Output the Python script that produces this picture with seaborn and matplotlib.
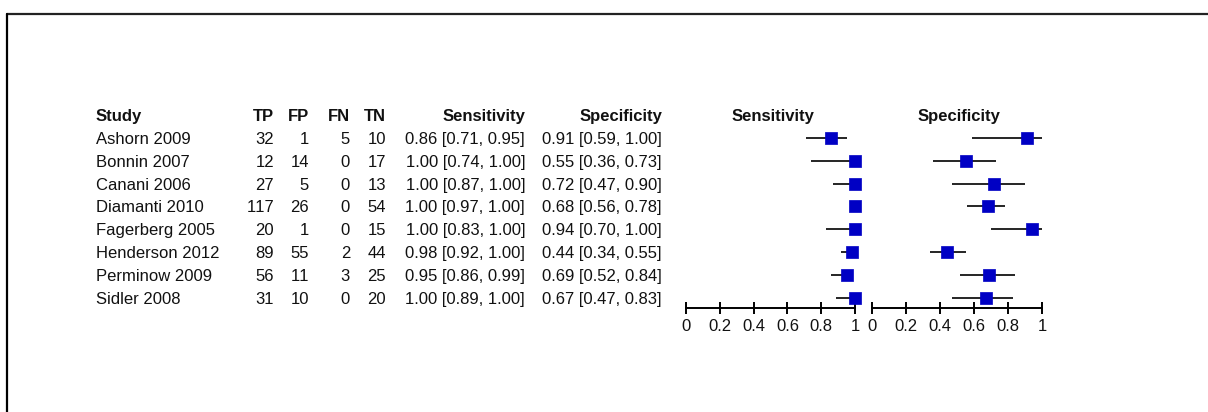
import matplotlib
matplotlib.use("Agg")
import matplotlib.pyplot as plt
import seaborn as sns
import pandas as pd
from matplotlib.lines import Line2D

# ---------------- data ----------------
studies = ["Ashorn 2009", "Bonnin 2007", "Canani 2006", "Diamanti 2010",
           "Fagerberg 2005", "Henderson 2012", "Perminow 2009", "Sidler 2008"]
TP = [32, 12, 27, 117, 20, 89, 56, 31]
FP = [1, 14, 5, 26, 1, 55, 11, 10]
FN = [5, 0, 0, 0, 0, 2, 3, 0]
TN = [10, 17, 13, 54, 15, 44, 25, 20]
sens = [0.86, 1.00, 1.00, 1.00, 1.00, 0.98, 0.95, 1.00]
sens_lo = [0.71, 0.74, 0.87, 0.97, 0.83, 0.92, 0.86, 0.89]
sens_hi = [0.95, 1.00, 1.00, 1.00, 1.00, 1.00, 0.99, 1.00]
spec = [0.91, 0.55, 0.72, 0.68, 0.94, 0.44, 0.69, 0.67]
spec_lo = [0.59, 0.36, 0.47, 0.56, 0.70, 0.34, 0.52, 0.47]
spec_hi = [1.00, 0.73, 0.90, 0.78, 1.00, 0.55, 0.84, 0.83]
tick_values = [0, 0.2, 0.4, 0.6, 0.8, 1.0]
tick_labels = ["0", "0.2", "0.4", "0.6", "0.8", "1"]
headers = ["Study", "TP", "FP", "FN", "TN", "Sensitivity", "Specificity"]

# ---------------- style ----------------
sns.set_style("white")
plt.rcParams["font.family"] = ["Liberation Sans", "DejaVu Sans"]
plt.rcParams["text.kerning_factor"] = 12
FS = 12
TEXT = "#111111"
BLUE = "#0000c4"

W, H = 1208, 412
fig = plt.figure(figsize=(W / 100, H / 100), dpi=100)
fig.patch.set_facecolor("white")

def fx(x):
    return x / W

def fy(y):
    return 1 - y / H

# frame lines (top and left)
fig.add_artist(Line2D([fx(7), fx(W)], [fy(14), fy(14)], color="#222222", lw=1.6,
                      transform=fig.transFigure))
fig.add_artist(Line2D([fx(7), fx(7)], [fy(14), fy(H)], color="black", lw=1.6,
                      transform=fig.transFigure))

# row layout
row0, dy = 137.7, 22.9
rows_y = [row0 + i * dy for i in range(len(studies))]
base_off = 6.0
header_y = 115.5 + base_off

# ---------------- table text ----------------
col_study_x = 96
col_right = {"TP": 274, "FP": 309, "FN": 350, "TN": 386,
             "Sensitivity": 525, "Specificity": 662}

fig.text(fx(col_study_x), fy(header_y), headers[0], fontsize=FS, fontweight="bold",
         color=TEXT, ha="left", va="baseline")
for h in headers[1:]:
    fig.text(fx(col_right[h]), fy(header_y), h, fontsize=FS, fontweight="bold",
             color=TEXT, ha="right", va="baseline")

for i, s in enumerate(studies):
    yb = fy(rows_y[i] + base_off)
    fig.text(fx(col_study_x), yb, s, fontsize=FS, color=TEXT, ha="left", va="baseline")
    fig.text(fx(col_right["TP"]), yb, str(TP[i]), fontsize=FS, color=TEXT, ha="right", va="baseline")
    fig.text(fx(col_right["FP"]), yb, str(FP[i]), fontsize=FS, color=TEXT, ha="right", va="baseline")
    fig.text(fx(col_right["FN"]), yb, str(FN[i]), fontsize=FS, color=TEXT, ha="right", va="baseline")
    fig.text(fx(col_right["TN"]), yb, str(TN[i]), fontsize=FS, color=TEXT, ha="right", va="baseline")
    fig.text(fx(col_right["Sensitivity"]), yb,
             f"{sens[i]:.2f} [{sens_lo[i]:.2f}, {sens_hi[i]:.2f}]",
             fontsize=FS, color=TEXT, ha="right", va="baseline")
    fig.text(fx(col_right["Specificity"]), yb,
             f"{spec[i]:.2f} [{spec_lo[i]:.2f}, {spec_hi[i]:.2f}]",
             fontsize=FS, color=TEXT, ha="right", va="baseline")

# ---------------- forest panels ----------------
axis_y = 308
top_y = 122
ylim_bottom = (axis_y - row0) / dy
ylim_top = (top_y - row0) / dy

def forest(x0, x1, est, lo, hi, title):
    ax = fig.add_axes([fx(x0), fy(axis_y), fx(x1 - x0), (axis_y - top_y) / H])
    ax.set_facecolor("none")
    df = pd.DataFrame({"row": list(range(len(est))), "est": est, "lo": lo, "hi": hi})
    ax.hlines(df["row"], df["lo"], df["hi"], color="black", lw=1.2, clip_on=False, zorder=2)
    sns.scatterplot(data=df, x="est", y="row", marker="s", s=64, color=BLUE,
                    edgecolor=BLUE, linewidth=0.5, ax=ax, zorder=3, clip_on=False,
                    legend=False)
    ax.set_xlim(0, 1)
    ax.set_ylim(ylim_bottom, ylim_top)
    for sp in ["top", "right", "left"]:
        ax.spines[sp].set_visible(False)
    ax.spines["bottom"].set_linewidth(1.4)
    ax.spines["bottom"].set_color("black")
    ax.set_yticks([])
    ax.set_xticks(tick_values)
    ax.set_xticklabels(tick_labels)
    ax.tick_params(axis="x", bottom=True, direction="inout", length=9, width=1.4,
                   colors="black", labelsize=FS, pad=3.5, labelcolor=TEXT)
    ax.set_xlabel("")
    ax.set_ylabel("")
    fig.text(fx((x0 + x1) / 2 + 2), fy(header_y), title, fontsize=FS, fontweight="bold",
             color=TEXT, ha="center", va="baseline")
    return ax

forest(686, 855, sens, sens_lo, sens_hi, "Sensitivity")
forest(872, 1042, spec, spec_lo, spec_hi, "Specificity")

fig.savefig("out.png", dpi=100, facecolor="white")
